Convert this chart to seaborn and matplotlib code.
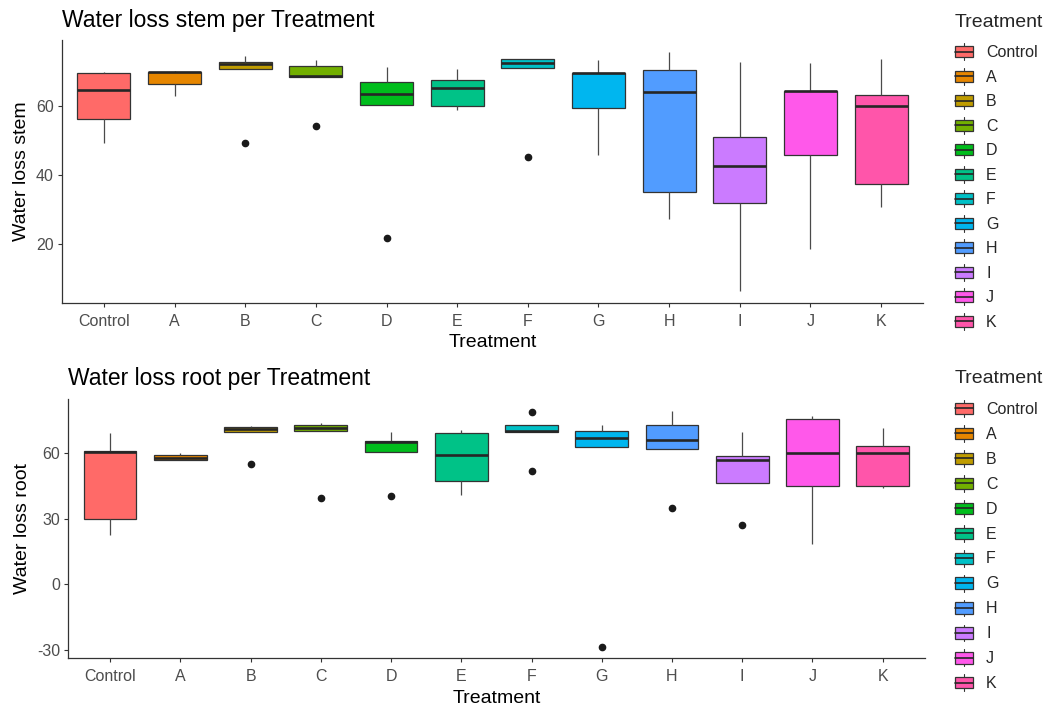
import numpy as np
import pandas as pd
import matplotlib
matplotlib.use("Agg")
import matplotlib.pyplot as plt
import seaborn as sns
from matplotlib.legend_handler import HandlerBase
from matplotlib.patches import Rectangle
from matplotlib.lines import Line2D

treatments = ["Control", "A", "B", "C", "D", "E", "F", "G", "H", "I", "J", "K"]

# five replicate measurements per treatment
stem_loss = [
    [49.4, 56.3, 64.8, 69.6, 69.9],   # Control
    [63.0, 66.4, 69.8, 69.9, 70.1],   # A
    [49.2, 70.7, 72.3, 72.9, 74.6],   # B
    [54.1, 68.5, 68.6, 71.6, 73.5],   # C
    [21.7, 60.2, 63.5, 67.0, 71.4],   # D
    [58.9, 59.9, 65.3, 67.6, 70.8],   # E
    [45.2, 71.0, 72.5, 73.8, 73.8],   # F
    [45.7, 59.6, 69.6, 69.7, 73.3],   # G
    [27.2, 35.2, 64.2, 70.4, 75.7],   # H
    [6.4, 32.0, 42.7, 51.0, 72.9],    # I
    [18.6, 45.9, 64.3, 64.4, 72.6],   # J
    [30.9, 37.3, 60.1, 63.3, 73.8],   # K
]

root_loss = [
    [22.5, 29.9, 60.6, 60.9, 69.0],   # Control
    [57.0, 57.0, 57.6, 59.3, 60.2],   # A
    [55.0, 69.4, 70.8, 71.9, 72.3],   # B
    [39.2, 69.9, 71.4, 73.0, 73.6],   # C
    [40.3, 60.5, 65.2, 65.4, 69.6],   # D
    [40.7, 47.1, 59.3, 69.1, 70.4],   # E
    [51.7, 69.4, 70.0, 72.8, 78.7],   # F
    [-28.5, 62.9, 66.7, 69.9, 72.8],  # G
    [34.8, 62.0, 66.1, 72.6, 79.3],   # H
    [26.9, 46.5, 57.0, 58.5, 69.4],   # I
    [18.5, 44.7, 60.2, 75.7, 76.7],   # J
    [43.8, 44.7, 60.2, 63.4, 71.4],   # K
]

palette = ["#FF6A68", "#E68600", "#BF9C00", "#72AF00", "#00BD1C", "#00C287",
           "#00C0C6", "#00B6EF", "#519CFF", "#CB7BFF", "#FF58EA", "#FF55AA"]

stem_ticks = [20, 40, 60]
root_ticks = [-30, 0, 30, 60]

sns.set_theme(style="white")
plt.rcParams["font.family"] = ["Liberation Sans", "DejaVu Sans"]

EDGE = "#333333"
TICK_TXT = "#4D4D4D"


def long_frame(values):
    rows = []
    for name, vals in zip(treatments, values):
        for v in vals:
            rows.append({"Treatment": name, "loss": v})
    return pd.DataFrame(rows)


class BoxKeyHandler(HandlerBase):
    """Legend key drawn as a miniature box with median and whiskers."""

    def __init__(self, face):
        super().__init__()
        self.face = face

    def create_artists(self, legend, orig_handle, xdescent, ydescent,
                       width, height, fontsize, trans):
        x0, y0 = -xdescent, -ydescent
        bh = height * 0.66
        by = y0 + (height - bh) / 2
        xm = x0 + width / 2
        rect = Rectangle((x0, by), width, bh, facecolor=self.face,
                         edgecolor=EDGE, linewidth=0.9, transform=trans)
        med = Line2D([x0, x0 + width], [y0 + height / 2] * 2,
                     color="#262626", linewidth=1.2, transform=trans)
        w1 = Line2D([xm, xm], [by + bh, y0 + height], color=EDGE,
                    linewidth=0.8, transform=trans)
        w2 = Line2D([xm, xm], [y0, by], color=EDGE, linewidth=0.8,
                    transform=trans)
        return [w1, w2, rect, med]


def draw_panel(ax, values, ticks, ylabel):
    df = long_frame(values)
    sns.boxplot(
        data=df, x="Treatment", y="loss", hue="Treatment",
        order=treatments, hue_order=treatments, palette=palette,
        saturation=1, width=0.75, linewidth=0.9, linecolor=EDGE,
        showcaps=False, fliersize=4.5, legend=False, ax=ax,
        flierprops=dict(marker="o", markerfacecolor="#1A1A1A",
                        markeredgecolor="#1A1A1A"),
        medianprops=dict(color="#262626", linewidth=1.9),
        whiskerprops=dict(color="#4A4A4A", linewidth=0.9),
    )
    allv = np.concatenate([np.asarray(v, float) for v in values])
    lo, hi = allv.min(), allv.max()
    pad = (hi - lo) * 0.05
    ax.set_ylim(lo - pad, hi + pad)
    ax.set_xlim(-0.6, len(treatments) - 0.4)
    ax.set_yticks(ticks)
    ax.set_yticklabels([str(t) for t in ticks])
    ax.set_facecolor("white")
    for side in ["top", "right"]:
        ax.spines[side].set_visible(False)
    for side in ["left", "bottom"]:
        ax.spines[side].set_color(EDGE)
        ax.spines[side].set_linewidth(0.9)
    ax.tick_params(axis="both", which="major", length=2.8, width=0.8,
                   color=EDGE, labelcolor=TICK_TXT, labelsize=11.5, pad=3,
                   bottom=True, left=True)
    ax.tick_params(axis="x", pad=5)
    ax.set_xlabel("Treatment", fontsize=14, color="black", labelpad=4)
    ax.set_ylabel(ylabel, fontsize=14, color="black", labelpad=4)
    ax.grid(False)


def add_legend(fig, x, y, spacing):
    handles = [Rectangle((0, 0), 1, 1) for _ in treatments]
    hmap = {h: BoxKeyHandler(c) for h, c in zip(handles, palette)}
    leg = fig.legend(handles, treatments, handler_map=hmap,
                     loc="upper left", bbox_to_anchor=(x, y),
                     bbox_transform=fig.transFigure, frameon=False,
                     title="Treatment", title_fontsize=14, fontsize=11.5,
                     handlelength=1.15, handleheight=1.25, handletextpad=0.8,
                     labelspacing=spacing, borderpad=0, borderaxespad=0,
                     alignment="left")
    # a little more room between the title and the first key
    leg._legend_box.sep = leg._legend_box.sep + 3.5
    return leg


fig = plt.figure(figsize=(10.5, 7.1), dpi=100)
fig.patch.set_facecolor("white")

W, H = 1050.0, 710.0
ax1 = fig.add_axes([61.6 / W, 1 - 303 / H, (923.4 - 61.6) / W, (303 - 40) / H])
ax2 = fig.add_axes([68 / W, 1 - 658.3 / H, (924.8 - 68) / W, (658.3 - 399) / H])

draw_panel(ax1, stem_loss, stem_ticks, "Water loss stem")
draw_panel(ax2, root_loss, root_ticks, "Water loss root")

fig.text(62 / W, 1 - 27 / H, "Water loss stem per Treatment", fontsize=16.5,
         ha="left", va="baseline", color="black")
fig.text(68 / W, 1 - 385 / H, "Water loss root per Treatment", fontsize=16.5,
         ha="left", va="baseline", color="black")

add_legend(fig, 955 / W, 1 - 14 / H, 0.475)
add_legend(fig, 955 / W, 1 - 370 / H, 0.505)

fig.savefig("out.png", dpi=100, facecolor="white")
